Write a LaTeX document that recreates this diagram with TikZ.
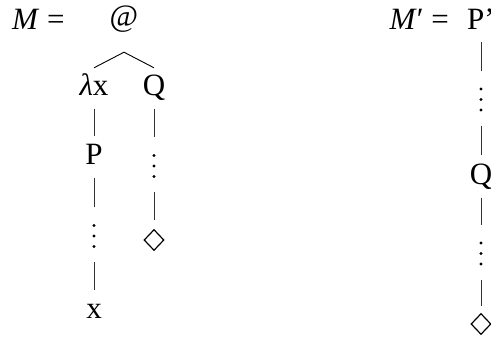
\documentclass[tikz,border=0pt]{standalone}
\usepackage{fontspec}
\setmainfont{Liberation Serif}
\usetikzlibrary{shapes.geometric}
\newcommand{\bigtxt}{\fontsize{31}{36}\selectfont}
\tikzset{
  lbl/.style={font=\bigtxt, inner sep=0pt},
  col/.style={font=\bigtxt, inner sep=0pt, text height=21pt, text depth=0pt, anchor=base},
  coltop/.style={col, text height=27pt},
  vdotsnode/.style={inner sep=0pt, minimum width=6pt, minimum height=24pt,
    path picture={
      \fill (path picture bounding box.center) circle[radius=1.7pt];
      \fill ([yshift=10.5pt]path picture bounding box.center) circle[radius=1.7pt];
      \fill ([yshift=-10.5pt]path picture bounding box.center) circle[radius=1.7pt];
    }},
  leaf/.style={diamond, draw, line width=1.2pt, minimum width=20pt, minimum height=21pt, inner sep=0pt},
  conn/.style={line width=0.8pt, draw=black!80},
  fromtxt/.style={shorten <=13.5pt},
  fromdots/.style={shorten <=14pt},
  totxt/.style={shorten >=6.5pt},
  todots/.style={shorten >=16.5pt},
}
\begin{document}
\begin{tikzpicture}[x=1pt,y=-1pt]
\useasboundingbox (0,0) rectangle (491,338);
% left term
\node[lbl, anchor=base west] (mlabel) at (12,29) {\textit{M} =};
\node[lbl, anchor=base, text depth=26pt] (root) at (124,26) {@};
\node[coltop] (lam) at (94,95) {\textit{λ}x};
\node[coltop] (q) at (154,95) {Q};
\node[col] (p) at (94,164) {P};
\node[vdotsnode] (d1) at (94,236) {};
\node[col] (x) at (94,318) {x};
\node[vdotsnode] (d2) at (154,166) {};
\node[leaf] (dia1) at (154,240) {};
\draw[conn, line width=0.9pt, draw=black] (lam.north) -- (root.south) -- (q.north);
\draw[conn, fromtxt, totxt] (lam.south) -- (p.north);
\draw[conn, fromtxt, todots] (p.south) -- (d1.north);
\draw[conn, fromdots, totxt] (d1.south) -- (x.north);
\draw[conn, fromtxt, todots] (q.south) -- (d2.north);
\draw[conn, fromdots, shorten >=8.5pt] (d2.south) -- (dia1.north);
% right term
\node[col] (pp) at (481,29) {P’};
\node[lbl, anchor=base east] (mplabel) at ([xshift=-18pt]pp.base west) {\textit{M}′ =};
\node[vdotsnode] (d3) at (481,99.5) {};
\node[col] (q2) at (481,184) {Q};
\node[vdotsnode] (d4) at (481,253.5) {};
\node[leaf] (dia2) at (481,324) {};
\draw[conn, shorten <=13pt, todots] (pp.south) -- (d3.north);
\draw[conn, fromdots, shorten >=8pt] (d3.south) -- (q2.north);
\draw[conn, fromtxt, todots] (q2.south) -- (d4.north);
\draw[conn, fromdots, shorten >=6.5pt] (d4.south) -- (dia2.north);
\end{tikzpicture}
\end{document}
